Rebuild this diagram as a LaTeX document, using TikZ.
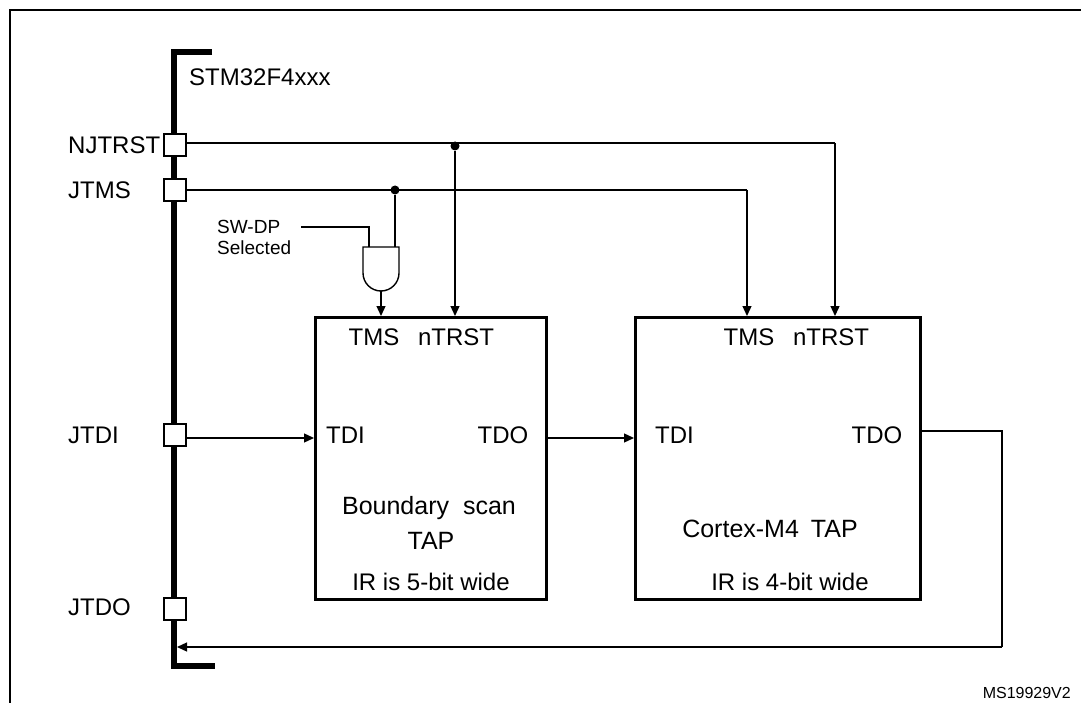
\documentclass[tikz,border=0pt]{standalone}
\usepackage{fontspec}
\setmainfont{Liberation Sans}
\usetikzlibrary{arrows.meta}
\begin{document}
\begin{tikzpicture}[x=1pt,y=-1pt,
  wire/.style={line width=1.3pt},
  arr/.style={wire,-{Triangle[length=10pt,width=9pt]}},
  tap/.style={draw,line width=2.8pt,minimum height=282pt,anchor=north west},
  pin/.style={draw,fill=white,line width=1.2pt,minimum size=22pt,inner sep=0pt},
  big/.style={font=\fontsize{24}{28}\selectfont,inner sep=0pt},
  dot/.style={circle,fill,inner sep=0pt,minimum size=9pt}]
\useasboundingbox (0,0) rectangle (1081,703);
\draw[line width=2pt] (10,703) -- (10,10) -- (1081,10);
% bus
\draw[line width=6pt] (212,52) -- (174,52) -- (174,666) -- (215,666);
\node[big,anchor=west] (chip) at (189,77) {STM32F4xxx};
\node[pin] (p1) at (175,145) {};
\node[pin] (p2) at (175,190) {};
\node[pin] (p3) at (175,435) {};
\node[pin] (p4) at (175,609) {};
\node[big,anchor=west] at (68,145) {NJTRST};
\node[big,anchor=west] at (68,190) {JTMS};
\node[big,anchor=west] at (68,435) {JTDI};
\node[big,anchor=west] at (68,607) {JTDO};
% boxes
\node[tap,minimum width=231pt] (b1) at (314,316) {};
\node[tap,minimum width=285pt] (b2) at (634,316) {};
\node[big] at (374,337) {TMS};
\node[big] at (456,337) {nTRST};
\node[big,anchor=west] at (326,435) {TDI};
\node[big] at (503,435) {TDO};
\node[big,font=\fontsize{25}{28}\selectfont] at (429,508) {Boundary\hspace{14pt}scan};
\node[big,font=\fontsize{25}{28}\selectfont] at (431,541) {TAP};
\node[big] at (431,582) {IR is 5-bit wide};
\node[big] at (749,337) {TMS};
\node[big] at (831,337) {nTRST};
\node[big,anchor=west] at (655,435) {TDI};
\node[big] at (877,435) {TDO};
\node[big,font=\fontsize{25}{28}\selectfont] at (770,529) {Cortex-M4\hspace{12pt}TAP};
\node[big] at (790,582) {IR is 4-bit wide};
% gate
\draw[line width=1.4pt] (363,247) -- (399,247) -- (399,273) arc[start angle=0,end angle=180,radius=18] -- cycle;
\coordinate (gout) at (381,291);
\node[font=\fontsize{19}{21}\selectfont,align=left,anchor=west,inner sep=0pt] (sw) at (217,237) {SW-DP\\Selected};
\draw[wire] (301,227) -- (369,227) -- (369,247);
% nets
\draw[wire] (p1.east |- 0,143) -- (835,143);
\draw[arr] (835,143) -- (835,316);
\node[dot] (d1) at (455,146) {};
\draw[arr] (d1) -- (455,316);
\draw[wire] (p2.east) -- (747,190);
\draw[arr] (747,190) -- (747,316);
\node[dot] (d2) at (395,190) {};
\draw[wire] (d2) -- (395,247);
\draw[arr] (gout) -- (381,316);
\draw[arr] (p3.east |- 0,438) -- (314,438);
\draw[arr] (545,438) -- (634,438);
\draw[wire] (919,431) -- (1002,431) -- (1002,647);
\draw[arr] (1002,647) -- (177,647);
\node[font=\fontsize{16}{18}\selectfont,anchor=east,inner sep=0pt] at (1071,693) {MS19929V2};
\end{tikzpicture}
\end{document}
